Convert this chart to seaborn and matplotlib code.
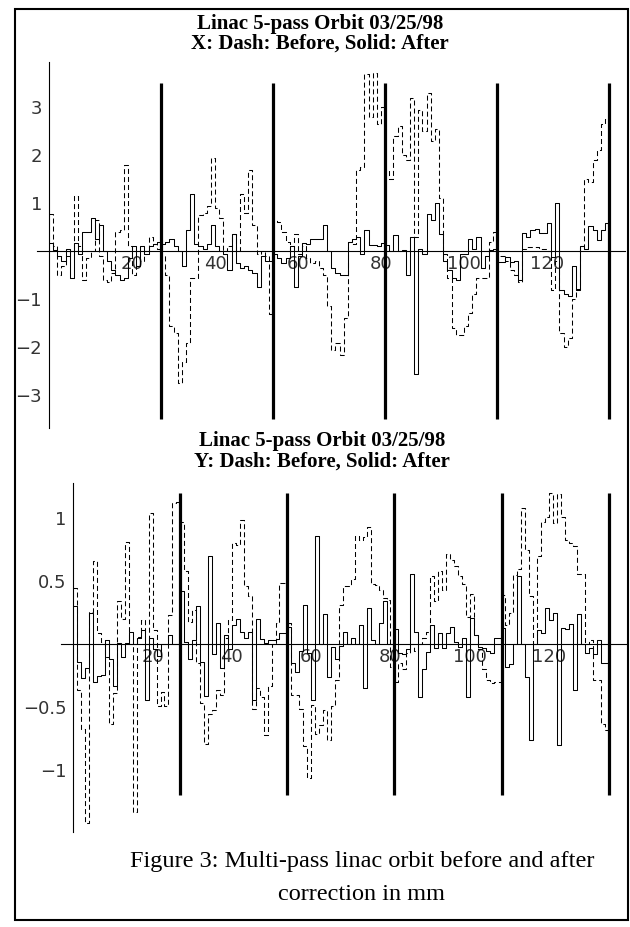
import numpy as np
import pandas as pd
import seaborn as sns
import matplotlib.pyplot as plt
from matplotlib.ticker import FixedLocator, MultipleLocator

# X orbit (mm), one value per monitor, 5 passes of 27 monitors
x_before = [0.78, 0.1, -0.5, -0.3, -0.1, 0.0, 1.15, 0.1, -0.6, -0.15,
            0.0, 0.65, -0.1, -0.6, -0.65, -0.45, 0.4, 0.45, 1.8, 0.1,
            -0.5, -0.3, -0.2, 0.0, 0.3, 0.15, 0.05, -0.1, -0.5, -1.55,
            -1.7, -2.75, -2.3, -1.9, -0.55, -0.55, 0.75, 0.8, 0.95, 1.95,
            0.9, 0.7, 0.0, 0.1, 0.35, 0.0, 1.2, 0.8, 1.7, 0.55,
            -0.05, 0.0, -0.1, -1.3, 0.65, 0.6, 0.4, 0.2, 0.0, 0.35,
            -0.05, 0.1, -0.15, -0.25, -0.2, -0.35, -0.5, -1.15, -2.05, -1.9,
            -2.15, -1.4, 0.2, 0.15, 1.7, 1.75, 3.7, 2.8, 3.72, 2.65,
            3.0, 1.7, 1.5, 2.4, 2.6, 2.0, 1.9, 3.2, 0.3, 2.95,
            2.5, 3.3, 2.3, 2.55, 1.1, -0.05, -0.55, -1.6, -1.75, -1.75,
            -1.55, -1.28, -0.9, -0.55, -0.55, -0.55, 0.2, 0.4, -0.1, -0.1,
            -0.2, -0.4, -0.5, -0.65, 0.05, 0.08, 0.08, 0.08, 0.05, 0.05,
            0.0, -0.8, -0.2, -1.7, -2.0, -1.8, -1.0, -0.78, 0.1, 1.5,
            1.45, 1.9, 2.1, 2.65, 2.75]
x_after = [0.17, 0.02, -0.1, -0.2, 0.05, -0.55, 0.18, -0.05, 0.4, 0.4,
           0.7, 0.25, 0.55, 0.0, -0.2, -0.4, -0.5, -0.6, -0.55, -0.15,
           0.1, -0.3, 0.1, -0.05, 0.1, 0.15, 0.2, 0.15, 0.2, 0.25,
           0.1, 0.0, -0.3, 0.45, 1.2, 0.15, 0.1, 0.05, 0.15, 0.55,
           0.1, 0.0, -0.05, -0.4, 0.35, -0.25, -0.35, -0.3, -0.4, -0.45,
           -0.75, -0.1, -0.2, -0.2, -0.05, -0.15, -0.25, -0.15, 0.1, -0.75,
           -0.1, 0.17, 0.15, 0.25, 0.25, 0.25, 0.55, 0.0, -0.35, -0.45,
           -0.5, -0.5, 0.2, 0.25, 0.3, -0.05, 0.45, 0.12, 0.12, 0.1,
           0.17, 0.12, 0.0, 0.33, 0.0, 0.03, -0.5, 0.3, -2.55, 0.05,
           -0.05, 0.78, 0.65, 1.0, 0.35, -0.2, -0.4, -0.55, -0.6, -0.05,
           -0.05, 0.25, 0.05, 0.3, -0.35, -0.1, 0.03, 0.05, -0.22, -0.22,
           -0.12, -0.22, -0.2, -0.6, 0.38, 0.3, 0.45, 0.47, 0.37, 0.37,
           0.58, -0.12, 1.0, -0.8, -0.88, -0.93, -0.3, -0.8, 0.1, 0.05,
           0.52, 0.45, 0.23, 0.45, 0.58]

# Y orbit (mm)
y_before = [0.45, -0.36, -0.67, -1.42, 0.26, 0.66, 0.09, 0.02, -0.1, -0.63,
            -0.39, 0.34, 0.2, 0.81, 0.0, -1.33, 0.06, 0.19, 0.0, 1.04,
            0.11, -0.49, -0.38, -0.49, 0.23, 1.12, 1.13, 0.97, 0.58, 0.18,
            0.27, -0.15, -0.47, -0.79, -0.55, -0.52, -0.36, -0.4, 0.05, 0.19,
            0.8, 0.79, 0.99, 0.46, 0.38, -0.51, -0.35, -0.42, -0.72, -0.33,
            0.0, 0.17, 0.49, 0.49, 0.17, -0.4, -0.4, -0.51, -0.81, -1.06,
            -0.48, -0.71, -0.64, -0.52, -0.76, -0.49, -0.28, 0.31, 0.46, 0.46,
            0.52, 0.86, 0.83, 0.85, 0.93, 0.48, 0.47, 0.43, 0.37, 0.35,
            -0.18, -0.3, -0.15, -0.2, -0.07, 0.0, -0.05, 0.0, 0.05, 0.1,
            0.54, 0.34, 0.58, 0.43, 0.72, 0.67, 0.62, 0.54, 0.48, 0.22,
            0.4, 0.07, -0.04, -0.2, -0.28, -0.31, -0.3, -0.3, 0.39, 0.15,
            0.25, 0.55, 0.6, 1.08, 0.75, 0.38, 0.0, 0.7, 0.97, 1.01,
            1.2, 0.96, 1.19, 1.01, 0.83, 0.8, 0.78, 0.56, 0.56, 0.0,
            0.03, -0.28, -0.28, -0.63, -0.68]
y_after = [0.3, -0.14, -0.27, -0.19, 0.25, -0.3, -0.25, -0.24, 0.03, -0.12,
           -0.33, 0.01, -0.1, 0.01, 0.1, 0.0, 0.05, 0.11, -0.44, 0.05,
           -0.04, -0.09, 0.0, 0.0, 0.07, 0.0, 0.0, 0.42, 0.02, -0.12,
           0.03, 0.3, -0.14, -0.41, 0.7, -0.08, 0.17, -0.19, 0.07, -0.04,
           0.15, 0.2, 0.1, 0.05, 0.1, -0.44, 0.2, 0.04, 0.01, 0.03,
           0.03, 0.04, 0.09, 0.09, 0.14, -0.15, -0.22, -0.05, 0.31, -0.07,
           -0.44, 0.86, 0.0, 0.24, -0.26, -0.02, -0.12, -0.01, 0.1, 0.0,
           0.05, 0.0, 0.15, -0.35, 0.29, 0.03, 0.0, 0.17, 0.34, 0.0,
           0.0, 0.12, -0.07, -0.08, -0.04, 0.56, 0.1, -0.42, -0.2, -0.06,
           0.15, -0.03, 0.09, -0.03, 0.09, 0.14, 0.02, -0.02, 0.05, -0.42,
           0.21, 0.07, -0.02, -0.03, -0.05, -0.07, 0.05, 0.05, 0.13, -0.18,
           -0.16, 0.0, 0.54, 0.0, -0.26, -0.76, 0.0, 0.11, 0.09, 0.29,
           0.19, 0.25, -0.8, 0.13, 0.12, 0.16, -0.36, 0.24, 0.0, -0.07,
           -0.03, -0.08, 0.03, -0.15, -0.15]

pass_ends = [27, 54, 81, 108, 135]
x_ticks = [20, 40, 60, 80, 100, 120]

sns.set_style("white")
plt.rcParams['font.family'] = ['DejaVu Sans']

W, H = 630, 927
fig = plt.figure(figsize=(W / 100, H / 100), dpi=100)


def px_axes(left, top, right, bottom):
    return fig.add_axes([left / W, 1 - bottom / H, (right - left) / W, (bottom - top) / H])


def to_steps(vals):
    # each monitor reading is held over one unit of x
    return pd.DataFrame({"i": np.arange(len(vals) + 1), "v": list(vals) + [vals[-1]]})


def orbit_panel(ax, before, after, xlim, ylim, yticks, yminor, sep_h):
    sns.lineplot(data=to_steps(before), x="i", y="v", ax=ax, color="black",
                 lw=0.75, linestyle=(0, (4.8, 2.9)), drawstyle="steps-post")
    sns.lineplot(data=to_steps(after), x="i", y="v", ax=ax, color="black",
                 lw=0.75, drawstyle="steps-post")
    ax.vlines(pass_ends, -sep_h, sep_h, colors="black", lw=2.3, zorder=5)
    ax.set_xlim(*xlim)
    ax.set_ylim(*ylim)
    ax.set_xlabel("")
    ax.set_ylabel("")
    ax.patch.set_alpha(0)
    for s in ("top", "right"):
        ax.spines[s].set_visible(False)
    for s in ("left", "bottom"):
        ax.spines[s].set_position(("data", 0))
        ax.spines[s].set_linewidth(0.8)
        ax.spines[s].set_color("black")
    ax.xaxis.set_major_locator(FixedLocator(x_ticks))
    ax.xaxis.set_minor_locator(MultipleLocator(5))
    ax.yaxis.set_major_locator(FixedLocator(yticks))
    ax.yaxis.set_minor_locator(MultipleLocator(yminor))
    ax.yaxis.set_major_formatter(lambda v, p: f"{v:g}".replace("-", "\u2212"))
    ax.tick_params(which="major", direction="in", length=5, width=0.8,
                   labelsize=13, colors="black", labelcolor="#333333")
    ax.tick_params(which="minor", direction="in", length=3, width=0.6, colors="black")
    ax.tick_params(axis="x", pad=3)
    ax.tick_params(axis="y", pad=5)


ax1 = px_axes(37, 62, 625, 428)
orbit_panel(ax1, x_before, x_after, (-2.9, 138.8), (-3.68, 3.94),
            [-3, -2, -1, 1, 2, 3], 0.2, 3.5)

ax2 = px_axes(61, 483, 626, 832)
orbit_panel(ax2, y_before, y_after, (-3.1, 139.4), (-1.49, 1.28),
            [-1, -0.5, 0.5, 1], 0.1, 1.2)


def ftext(x, y, s, **kw):
    fig.text(x / W, 1 - y / H, s, ha="center", va="center",
             family=["Liberation Serif"], color="black", **kw)


ftext(320, 24, "Linac 5-pass Orbit 03/25/98", size=15, weight="bold")
ftext(320, 44, "X: Dash: Before, Solid: After", size=15, weight="bold")
ftext(322, 441, "Linac 5-pass Orbit 03/25/98", size=15, weight="bold")
ftext(322, 462, "Y: Dash: Before, Solid: After", size=15, weight="bold")
ftext(362, 862, "Figure 3: Multi-pass linac orbit before and after", size=17.5)
ftext(362, 895, "correction in mm", size=17.5)

frame = plt.Rectangle((15 / W, 1 - 920 / H), 613 / W, 911 / H, transform=fig.transFigure,
                      fill=False, lw=1.5, edgecolor="black")
fig.patches.append(frame)

fig.savefig("out.png", dpi=100)
